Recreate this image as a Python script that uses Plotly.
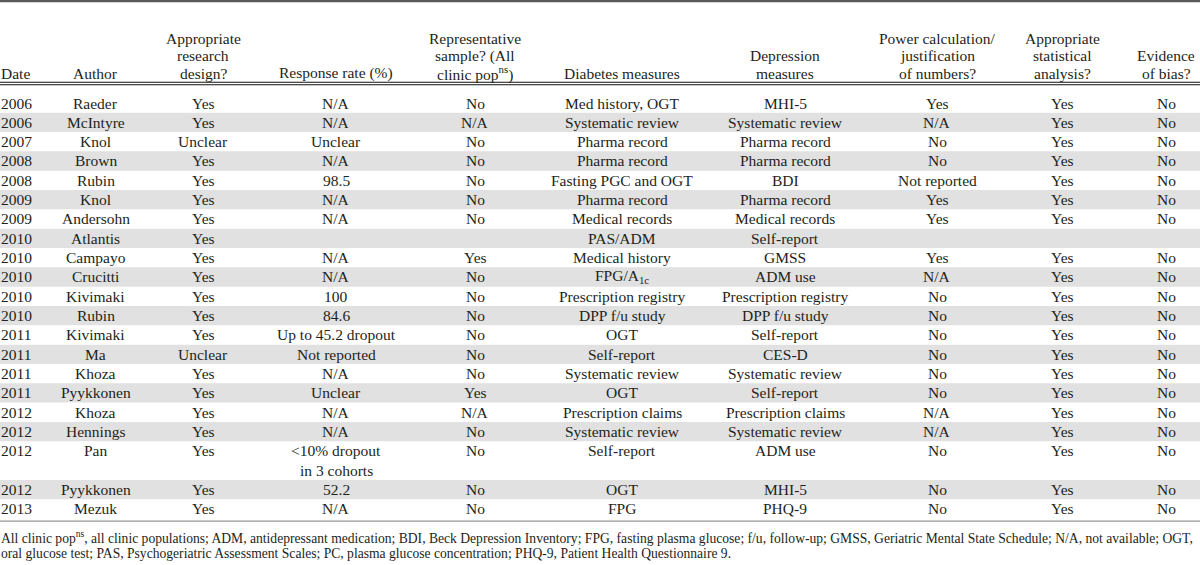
import plotly.graph_objects as go

# ---------------- data ----------------
headers = [
    "Date",
    "Author",
    "Appropriate\nresearch\ndesign?",
    "Response rate (%)",
    "Representative\nsample? (All\nclinic pop<sup>ns</sup>)",
    "Diabetes measures",
    "Depression\nmeasures",
    "Power calculation/\njustification\nof numbers?",
    "Appropriate\nstatistical\nanalysis?",
    "Evidence\nof bias?",
]

dates = ["2006", "2006", "2007", "2008", "2008", "2009", "2009", "2010", "2010", "2010",
         "2010", "2010", "2011", "2011", "2011", "2011", "2012", "2012", "2012", "2012", "2013"]
authors = ["Raeder", "McIntyre", "Knol", "Brown", "Rubin", "Knol", "Andersohn", "Atlantis",
           "Campayo", "Crucitti", "Kivimaki", "Rubin", "Kivimaki", "Ma", "Khoza", "Pyykkonen",
           "Khoza", "Hennings", "Pan", "Pyykkonen", "Mezuk"]
research_design = ["Yes", "Yes", "Unclear", "Yes", "Yes", "Yes", "Yes", "Yes", "Yes", "Yes",
                   "Yes", "Yes", "Yes", "Unclear", "Yes", "Yes", "Yes", "Yes", "Yes", "Yes", "Yes"]
response_rate = ["N/A", "N/A", "Unclear", "N/A", "98.5", "N/A", "N/A", "", "N/A", "N/A",
                 "100", "84.6", "Up to 45.2 dropout", "Not reported", "N/A", "Unclear",
                 "N/A", "N/A", "&lt;10% dropout\nin 3 cohorts", "52.2", "N/A"]
representative = ["No", "N/A", "No", "No", "No", "No", "No", "", "Yes", "No",
                  "No", "No", "No", "No", "No", "Yes", "N/A", "No", "No", "No", "No"]
diabetes_measures = ["Med history, OGT", "Systematic review", "Pharma record", "Pharma record",
                     "Fasting PGC and OGT", "Pharma record", "Medical records", "PAS/ADM",
                     "Medical history", "FPG/A<sub>1c</sub>", "Prescription registry",
                     "DPP f/u study", "OGT", "Self-report", "Systematic review", "OGT",
                     "Prescription claims", "Systematic review", "Self-report", "OGT", "FPG"]
depression_measures = ["MHI-5", "Systematic review", "Pharma record", "Pharma record", "BDI",
                       "Pharma record", "Medical records", "Self-report", "GMSS", "ADM use",
                       "Prescription registry", "DPP f/u study", "Self-report", "CES-D",
                       "Systematic review", "Self-report", "Prescription claims",
                       "Systematic review", "ADM use", "MHI-5", "PHQ-9"]
power_calc = ["Yes", "N/A", "No", "No", "Not reported", "Yes", "Yes", "", "Yes", "N/A",
              "No", "No", "No", "No", "No", "No", "N/A", "N/A", "No", "No", "No"]
statistical = ["Yes", "Yes", "Yes", "Yes", "Yes", "Yes", "Yes", "", "Yes", "Yes",
               "Yes", "Yes", "Yes", "Yes", "Yes", "Yes", "Yes", "Yes", "Yes", "Yes", "Yes"]
bias = ["No", "No", "No", "No", "No", "No", "No", "", "No", "No",
        "No", "No", "No", "No", "No", "No", "No", "No", "No", "No", "No"]

footnote = ("All clinic pop<sup>ns</sup>, all clinic populations; ADM, antidepressant medication; "
            "BDI, Beck Depression Inventory; FPG, fasting plasma glucose; f/u, follow-up; GMSS, "
            "Geriatric Mental State Schedule; N/A, not available; OGT,\noral glucose test; PAS, "
            "Psychogeriatric Assessment Scales; PC, plasma glucose concentration; PHQ-9, "
            "Patient Health Questionnaire 9.")

columns = [dates, authors, research_design, response_rate, representative,
           diabetes_measures, depression_measures, power_calc, statistical, bias]

# ---------------- layout / style ----------------
W, H = 1200, 565
col_x = [0, 95.5, 203, 336, 475, 622, 785, 937, 1062, 1166]
FONT = "Liberation Serif"
TXT = "#231f20"
STRIPE = "#e1e1e1"
FS = 15.5
line_h = 19.33
first_center = 103.0
header_last = 73.0
header_step = 17.5

fig = go.Figure()
fig.add_trace(go.Scatter(x=[0, W], y=[0, H], mode="markers",
                         marker=dict(opacity=0), hoverinfo="skip", showlegend=False))

annotations = []
shapes = []


def add_text(x, y, text, size=FS, xanchor="center"):
    annotations.append(dict(x=x, y=y, xref="x", yref="y", text=text, showarrow=False,
                            xanchor=xanchor, yanchor="middle", borderpad=0,
                            font=dict(family=FONT, size=size, color=TXT)))


# headers (bottom aligned)
for ci, h in enumerate(headers):
    lines = h.split("\n")
    n = len(lines)
    for k, ln in enumerate(lines):
        y = header_last - (n - 1 - k) * header_step
        add_text(col_x[ci], y, ln, xanchor="left" if ci == 0 else "center")

# body rows
line_idx = 0
for ri in range(len(dates)):
    nlines = max(len(col[ri].split("\n")) for col in columns)
    top = first_center - line_h / 2 + line_idx * line_h
    if ri % 2 == 1:
        shapes.append(dict(type="rect", xref="x", yref="y", x0=0, x1=W,
                           y0=top, y1=top + nlines * line_h,
                           fillcolor=STRIPE, line=dict(width=0), layer="below"))
    for ci, col in enumerate(columns):
        for k, ln in enumerate(col[ri].split("\n")):
            if ln:
                add_text(col_x[ci], top + line_h / 2 + k * line_h, ln,
                         xanchor="left" if ci == 0 else "center")
    line_idx += nlines

body_bottom = first_center - line_h / 2 + line_idx * line_h

# rules
shapes.append(dict(type="line", xref="x", yref="y", x0=0, x1=W, y0=1.2, y1=1.2,
                   line=dict(color="#5a5a5a", width=2.2)))
for yy in (82.3, 84.8):
    shapes.append(dict(type="line", xref="x", yref="y", x0=0, x1=W, y0=yy, y1=yy,
                       line=dict(color="#111111", width=1.1)))
shapes.append(dict(type="line", xref="x", yref="y", x0=0, x1=W,
                   y0=body_bottom + 2.5, y1=body_bottom + 2.5,
                   line=dict(color="#777777", width=1)))

# footnote
for k, ln in enumerate(footnote.split("\n")):
    add_text(0, body_bottom + 19 + k * 15.5, ln, size=13.6, xanchor="left")

fig.update_layout(
    width=W, height=H,
    margin=dict(l=0, r=0, t=0, b=0),
    paper_bgcolor="white", plot_bgcolor="white",
    xaxis=dict(range=[0, W], visible=False, fixedrange=True),
    yaxis=dict(range=[H, 0], visible=False, fixedrange=True),
    annotations=annotations, shapes=shapes, showlegend=False,
)

fig.write_html("out.html", config={"displayModeBar": False},
               post_script="document.body.style.margin='0px';document.body.style.overflow='hidden';")
